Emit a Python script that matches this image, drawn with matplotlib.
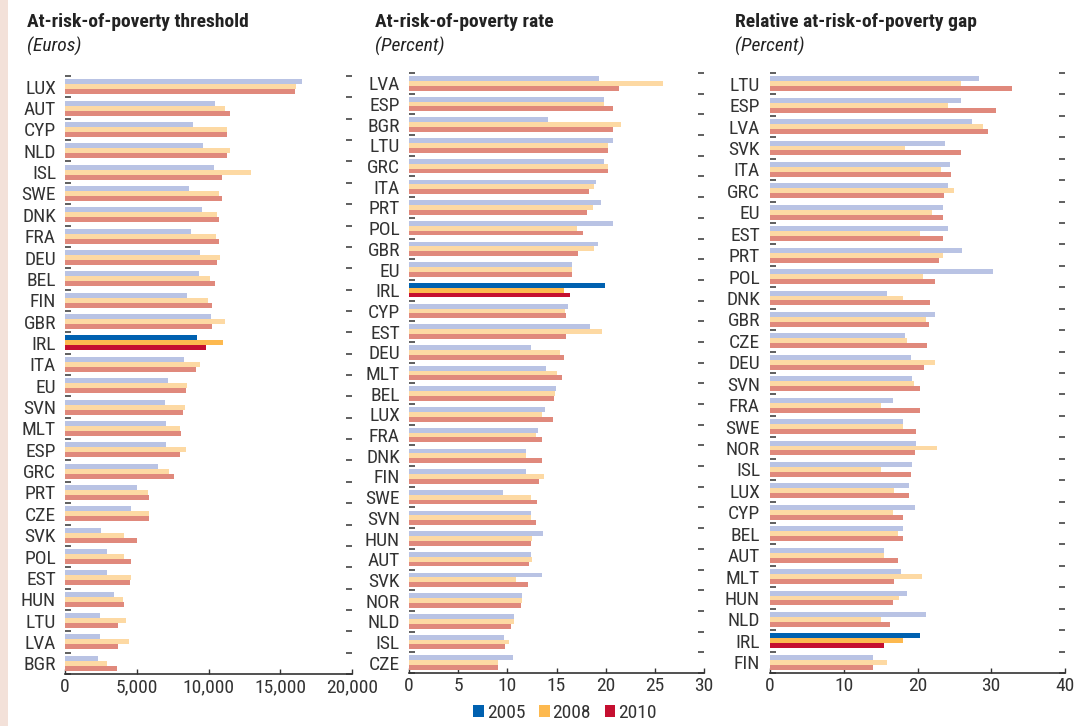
import matplotlib
matplotlib.use("Agg")
import matplotlib.pyplot as plt
from matplotlib.patches import Rectangle
from matplotlib import font_manager as fm

# ---- pick a condensed font if one is installed ----
_fonts = fm.fontManager.ttflist
_names = {f.name for f in _fonts}
_cond = {"condensed", "semi-condensed", "extra-condensed", "ultra-condensed", "narrow"}
FAMILY, STRETCH, SCALE = "DejaVu Sans", "normal", 1.0
for cand in ["Liberation Sans Narrow", "Roboto Condensed", "Open Sans Condensed",
             "Noto Sans Condensed", "DejaVu Sans Condensed"]:
    if cand in _names:
        FAMILY, STRETCH, SCALE = cand, "normal", 1.0
        break
else:
    for fam in ["DejaVu Sans", "Noto Sans", "Open Sans", "Roboto"]:
        if any(f.name == fam and str(f.stretch).lower() in _cond for f in _fonts):
            FAMILY, STRETCH, SCALE = fam, "condensed", 0.92
            break
    else:
        FAMILY, STRETCH, SCALE = "Roboto", "normal", 0.95

plt.rcParams['font.family'] = [FAMILY, 'DejaVu Sans']
plt.rcParams['font.stretch'] = STRETCH

years = ["2005", "2008", "2010"]

# Panel 1: At-risk-of-poverty threshold (Euros)
thr_cats = ["LUX", "AUT", "CYP", "NLD", "ISL", "SWE", "DNK", "FRA", "DEU", "BEL",
            "FIN", "GBR", "IRL", "ITA", "EU", "SVN", "MLT", "ESP", "GRC", "PRT",
            "CZE", "SVK", "POL", "EST", "HUN", "LTU", "LVA", "BGR"]
thr_2005 = [16530, 10450, 8920, 9610, 10380, 8640, 9540, 8780, 9400, 9340,
            8500, 10170, 9200, 8290, 7170, 6960, 7030, 7030, 6470, 5000,
            4590, 2490, 2910, 2910, 3400, 2420, 2420, 2280]
thr_2008 = [16110, 11150, 11290, 11500, 12970, 10730, 10590, 10520, 10800, 10100,
            9960, 11150, 11010, 9400, 8500, 8360, 8010, 8430, 7240, 5770,
            5840, 4100, 4100, 4590, 4030, 4240, 4450, 2910]
thr_2010 = [16040, 11500, 11290, 11290, 10940, 10940, 10730, 10730, 10590, 10450,
            10240, 10240, 9820, 9130, 8430, 8220, 8080, 8010, 7590, 5840,
            5840, 5000, 4590, 4520, 4100, 3680, 3680, 3610]

# Panel 2: At-risk-of-poverty rate (Percent)
rate_cats = ["LVA", "ESP", "BGR", "LTU", "GRC", "ITA", "PRT", "POL", "GBR", "EU",
             "IRL", "CYP", "EST", "DEU", "MLT", "BEL", "LUX", "FRA", "DNK", "FIN",
             "SWE", "SVN", "HUN", "AUT", "SVK", "NOR", "NLD", "ISL", "CZE"]
rate_2005 = [19.3, 19.8, 14.1, 20.7, 19.8, 19.0, 19.5, 20.7, 19.2, 16.6,
             19.9, 16.2, 18.4, 12.4, 13.9, 14.9, 13.8, 13.1, 11.9, 11.9,
             9.6, 12.4, 13.6, 12.4, 13.5, 11.5, 10.7, 9.7, 10.6]
rate_2008 = [25.8, 19.8, 21.6, 20.2, 20.2, 18.8, 18.7, 17.1, 18.8, 16.6,
             15.8, 15.9, 19.6, 15.4, 15.0, 14.8, 13.5, 12.9, 11.9, 13.7,
             12.4, 12.4, 12.5, 12.5, 10.9, 11.5, 10.7, 10.2, 9.1]
rate_2010 = [21.4, 20.7, 20.7, 20.2, 20.2, 18.3, 18.1, 17.7, 17.2, 16.6,
             16.4, 16.0, 16.0, 15.8, 15.6, 14.7, 14.6, 13.5, 13.5, 13.2,
             13.0, 12.9, 12.4, 12.2, 12.1, 11.4, 10.4, 9.8, 9.1]

# Panel 3: Relative at-risk-of-poverty gap (Percent)
gap_cats = ["LTU", "ESP", "LVA", "SVK", "ITA", "GRC", "EU", "EST", "PRT", "POL",
            "DNK", "GBR", "CZE", "DEU", "SVN", "FRA", "SWE", "NOR", "ISL", "LUX",
            "CYP", "BEL", "AUT", "MLT", "HUN", "NLD", "IRL", "FIN"]
gap_2005 = [28.4, 25.9, 27.4, 23.7, 24.4, 24.1, 23.4, 24.2, 26.1, 30.3,
            15.8, 22.4, 18.3, 19.1, 19.2, 16.7, 18.1, 19.8, 19.2, 18.8,
            19.6, 18.0, 15.4, 17.7, 18.6, 21.1, 20.4, 13.9]
gap_2008 = [25.9, 24.1, 28.9, 18.3, 23.2, 24.9, 21.9, 20.4, 23.4, 20.7,
            18.1, 21.1, 18.6, 22.4, 19.5, 15.0, 18.1, 22.6, 15.0, 16.8,
            16.7, 17.3, 15.4, 20.6, 17.5, 15.0, 18.0, 15.8]
gap_2010 = [32.8, 30.7, 29.5, 25.9, 24.6, 23.6, 23.4, 23.4, 22.9, 22.4,
            21.7, 21.5, 21.3, 20.9, 20.3, 20.3, 19.8, 19.6, 19.1, 18.8,
            18.1, 18.1, 17.3, 16.8, 16.7, 16.3, 15.4, 14.0]

light_cols = ["#b9c3e4", "#fdd9a3", "#e0897c"]
dark_cols = ["#0061b0", "#fdb94f", "#c50f30"]
highlight = "IRL"
text_col = "#333333"
FS = 14 * SCALE

W, H = 1079, 726
fig = plt.figure(figsize=(W / 100, H / 100), dpi=100)
fig.patches.append(Rectangle((0, 0), 8 / W, 1, transform=fig.transFigure,
                             facecolor="#f3e1d9", edgecolor="none", zorder=0))


def px_axes(l, t, r, b):
    return fig.add_axes([l / W, 1 - b / H, (r - l) / W, (b - t) / H])


panels = [
    (thr_cats, [thr_2005, thr_2008, thr_2010], (65, 76, 352, 674), 20000, 5000,
     lambda v: f"{int(v):,}", "At-risk-of-poverty threshold", "(Euros)", 27, 9),
    (rate_cats, [rate_2005, rate_2008, rate_2010], (409, 73, 704, 673), 30, 5,
     lambda v: f"{int(v)}", "At-risk-of-poverty rate", "(Percent)", 375, 9),
    (gap_cats, [gap_2005, gap_2008, gap_2010], (770, 73, 1065, 673), 40, 10,
     lambda v: f"{int(v)}", "Relative at-risk-of-poverty gap", "(Percent)", 735, 10),
]

bh = 0.233
for cats, series, box, xmax, step, fmt, title, unit, tx, pad in panels:
    ax = px_axes(*box)
    n = len(cats)
    for k, vals in enumerate(series):
        ys = [i + (k - 1) * bh for i in range(n)]
        cols = [dark_cols[k] if c == highlight else light_cols[k] for c in cats]
        ax.barh(ys, vals, height=bh, color=cols, edgecolor="none", zorder=2)
    ax.set_xlim(0, xmax)
    ax.set_ylim(n - 0.5, -0.5)
    ax.set_yticks(range(n))
    ax.set_yticklabels(cats)
    ax.tick_params(axis="y", which="major", length=0, pad=pad * 0.72,
                   labelsize=FS, labelcolor=text_col)
    ax.set_yticks([i - 0.5 for i in range(n + 1)], minor=True)
    ax.tick_params(axis="y", which="minor", left=True, right=True, direction="in",
                   length=4, width=1.2, color="#444444")
    xt = list(range(0, xmax + 1, step))
    ax.set_xticks(xt)
    ax.set_xticklabels([fmt(v) for v in xt])
    ax.tick_params(axis="x", direction="in", length=3.5, width=1, color=text_col,
                   labelsize=FS, labelcolor=text_col, pad=3)
    for s in ["top", "left", "right"]:
        ax.spines[s].set_visible(False)
    ax.spines["bottom"].set_color(text_col)
    ax.spines["bottom"].set_linewidth(1.2)
    ax.set_facecolor("none")
    fig.text(tx / W, 1 - 22 / H, title, fontsize=FS, fontweight="bold",
             color="#222222", va="center", ha="left")
    fig.text(tx / W, 1 - 46 / H, unit, fontsize=FS, fontstyle="italic",
             color="#222222", va="center", ha="left")

# Legend
handles = [Rectangle((0, 0), 1, 1, facecolor=c, edgecolor="none") for c in dark_cols]
fig.legend(handles, years, loc="center", bbox_to_anchor=(565 / W, 1 - 713 / H),
           ncol=3, frameon=False, fontsize=FS, handlelength=0.55, handleheight=0.55,
           handletextpad=0.15, columnspacing=0.7, labelcolor=text_col)

fig.savefig("out.png", dpi=100)
